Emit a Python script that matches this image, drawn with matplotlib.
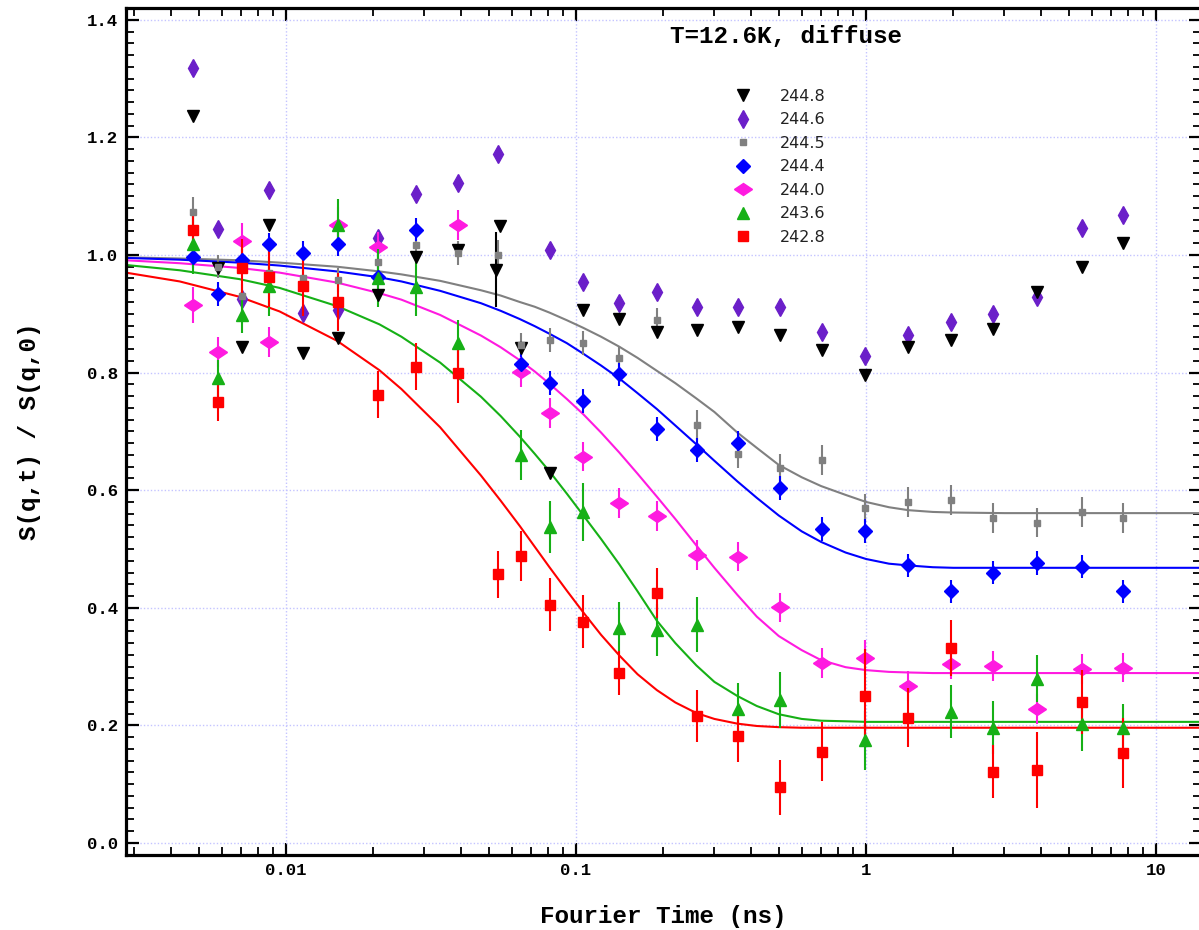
import numpy as np
import matplotlib
matplotlib.use("Agg")
import matplotlib.pyplot as plt
from matplotlib.lines import Line2D
from matplotlib.markers import MarkerStyle
from matplotlib.transforms import Affine2D
from matplotlib.ticker import FixedLocator, FixedFormatter, MultipleLocator, LogLocator, NullFormatter

nan = np.nan

# ---------------- data ----------------
# Fourier times (ns) shared by the data sets
T = [0.00479, 0.00583, 0.00704, 0.00877, 0.0114, 0.0151, 0.0207, 0.0281, 0.0393,
     0.0538, 0.0644, 0.0813, 0.1055, 0.1407, 0.1907, 0.2604, 0.3628, 0.505, 0.705,
     0.988, 1.396, 1.964, 2.741, 3.888, 5.557, 7.69]

# 244.8 (own time list: two points near 0.054 ns)
T_2448 = [0.00479, 0.00583, 0.00704, 0.00877, 0.0114, 0.0151, 0.0207, 0.0281, 0.0393,
          0.0530, 0.0547, 0.0644, 0.0813, 0.1055, 0.1407, 0.1907, 0.2604, 0.3628, 0.505,
          0.705, 0.988, 1.396, 1.964, 2.741, 3.888, 5.557, 7.69]
S_2448 = [1.236, 0.978, 0.844, 1.051, 0.833, 0.859, 0.932, 0.997, 1.008,
          0.975, 1.050, 0.842, 0.629, 0.906, 0.891, 0.869, 0.872, 0.877, 0.864,
          0.838, 0.796, 0.844, 0.855, 0.874, 0.937, 0.980, 1.020]
E_2448 = [0, 0, 0, 0, 0, 0, 0, 0, 0,
          0.064, 0, 0, 0, 0, 0, 0, 0, 0, 0,
          0, 0, 0, 0, 0, 0, 0, 0]

S_2446 = [1.318, 1.044, 0.925, 1.111, 0.901, 0.906, 1.029, 1.103, 1.122, 1.172, nan,
          1.008, 0.954, 0.919, 0.937, 0.912, 0.912, 0.911, 0.869, 0.828, 0.864, 0.886,
          0.900, 0.929, 1.046, 1.068]

S_2445 = [1.073, 0.980, 0.930, 0.969, 0.961, 0.957, 0.988, 1.017, 1.003, 1.000, 0.847,
          0.855, 0.850, 0.825, 0.889, 0.711, 0.662, 0.637, 0.651, 0.569, 0.580, 0.583,
          0.553, 0.545, 0.563, 0.553]
E_2445 = [0.025, 0.02, 0.02, 0.02, 0.02, 0.02, 0.02, 0.02, 0.02, 0.025, 0.02,
          0.02, 0.02, 0.02, 0.02, 0.025, 0.025, 0.025, 0.025, 0.025, 0.025, 0.025,
          0.025, 0.025, 0.025, 0.025]

S_2444 = [0.997, 0.934, 0.991, 1.018, 1.003, 1.018, 0.963, 1.043, nan, nan, 0.815,
          0.782, 0.752, 0.797, 0.704, 0.668, 0.680, 0.604, 0.534, 0.531, 0.472, 0.428,
          0.460, 0.476, 0.470, 0.428]
E_2444 = [0.02] * 26

S_2440 = [0.915, 0.835, 1.024, 0.852, nan, 1.051, 1.014, nan, 1.051, nan, 0.801,
          0.731, 0.657, 0.578, 0.556, 0.490, 0.487, 0.401, 0.306, 0.315, 0.267, 0.304,
          0.301, 0.228, 0.296, 0.298]
E_2440 = [0.03, 0.025, 0.03, 0.025, 0.025, 0.03, 0.025, 0.025, 0.025, 0.025, 0.025,
          0.025, 0.025, 0.025, 0.025, 0.025, 0.025, 0.025, 0.025, 0.03, 0.025, 0.025,
          0.025, 0.025, 0.025, 0.025]

S_2436 = [1.018, 0.791, 0.898, 0.947, nan, 1.051, 0.961, 0.946, 0.850, nan, 0.660,
          0.538, 0.563, 0.366, 0.362, 0.371, 0.228, 0.243, nan, 0.175, nan, 0.223,
          0.196, 0.279, 0.202, 0.196]
E_2436 = [0.05, 0.03, 0.03, 0.05, 0.05, 0.045, 0.05, 0.05, 0.04, 0.04, 0.042,
          0.044, 0.05, 0.044, 0.044, 0.047, 0.044, 0.047, 0.05, 0.05, 0.05, 0.045,
          0.045, 0.04, 0.045, 0.04]

S_2428 = [1.043, 0.750, 0.978, 0.962, 0.947, 0.920, 0.762, 0.810, 0.799, 0.457, 0.488,
          0.405, 0.376, 0.289, 0.425, 0.216, 0.182, 0.095, 0.155, 0.250, 0.213, 0.332,
          0.121, 0.124, 0.240, 0.153]
E_2428 = [0.03, 0.033, 0.05, 0.05, 0.05, 0.05, 0.04, 0.04, 0.05, 0.04, 0.043,
          0.045, 0.045, 0.037, 0.043, 0.045, 0.045, 0.047, 0.05, 0.08, 0.05, 0.048,
          0.045, 0.065, 0.055, 0.06]

# fitted curves, values
FIT_T = [0.0028, 0.0043, 0.0069, 0.0095, 0.015, 0.021, 0.025, 0.034, 0.047, 0.055,
         0.064, 0.072, 0.081, 0.093, 0.106, 0.122, 0.141, 0.163, 0.19, 0.22, 0.26,
         0.30, 0.36, 0.42, 0.5, 0.6, 0.7, 0.85, 1.0, 1.2, 1.4, 1.7, 2.0, 3.0, 14.3]
FIT_2445 = [0.996, 0.994, 0.991, 0.987, 0.980, 0.972, 0.967, 0.956, 0.940, 0.931,
            0.920, 0.912, 0.902, 0.889, 0.876, 0.861, 0.844, 0.825, 0.803, 0.782, 0.756,
            0.733, 0.698, 0.672, 0.643, 0.622, 0.607, 0.592, 0.580, 0.571, 0.566, 0.563,
            0.562, 0.561, 0.561]
FIT_2444 = [0.995, 0.992, 0.987, 0.982, 0.972, 0.962, 0.955, 0.939, 0.918, 0.905,
            0.891, 0.879, 0.866, 0.850, 0.832, 0.812, 0.790, 0.765, 0.738, 0.710, 0.678,
            0.650, 0.615, 0.587, 0.557, 0.530, 0.512, 0.494, 0.483, 0.475, 0.472, 0.469,
            0.468, 0.468, 0.468]
FIT_2440 = [0.991, 0.986, 0.978, 0.970, 0.953, 0.935, 0.924, 0.898, 0.863, 0.843,
            0.821, 0.802, 0.781, 0.755, 0.729, 0.698, 0.664, 0.628, 0.589, 0.551, 0.506,
            0.468, 0.422, 0.385, 0.352, 0.328, 0.311, 0.299, 0.294, 0.291, 0.290, 0.289,
            0.289, 0.289, 0.289]
FIT_2436 = [0.983, 0.974, 0.959, 0.944, 0.913, 0.882, 0.861, 0.817, 0.759, 0.726,
            0.691, 0.662, 0.632, 0.594, 0.557, 0.517, 0.474, 0.428, 0.378, 0.340, 0.302,
            0.274, 0.250, 0.233, 0.219, 0.211, 0.208, 0.207, 0.206, 0.206, 0.206, 0.206,
            0.206, 0.206, 0.206]
FIT_2428 = [0.970, 0.955, 0.929, 0.904, 0.854, 0.804, 0.772, 0.707, 0.625, 0.582,
            0.539, 0.504, 0.469, 0.429, 0.392, 0.354, 0.319, 0.287, 0.260, 0.239, 0.221,
            0.211, 0.203, 0.199, 0.197, 0.196, 0.196, 0.196, 0.196, 0.196, 0.196, 0.196,
            0.196, 0.196, 0.196]

LABELS = ["244.8", "244.6", "244.5", "244.4", "244.0", "243.6", "242.8"]
TITLE = "T=12.6K, diffuse"
X_TICKS = [0.01, 0.1, 1, 10]
X_TICK_LABELS = ["0.01", "0.1", "1", "10"]
Y_TICKS = [0.0, 0.2, 0.4, 0.6, 0.8, 1.0, 1.2, 1.4]
Y_TICK_LABELS = ["0.0", "0.2", "0.4", "0.6", "0.8", "1.0", "1.2", "1.4"]

# ---------------- styles ----------------
C_BLACK = "#000000"
C_PURPLE = "#6b1fc9"
C_GRAY = "#808080"
C_BLUE = "#0000ff"
C_PINK = "#ff1ae0"
C_GREEN = "#16b016"
C_RED = "#ff0000"

hdiamond = MarkerStyle("d", transform=Affine2D().rotate_deg(90))

MONO = "Liberation Mono"

fig = plt.figure(figsize=(11.99, 9.30), dpi=100)
ax = fig.add_axes([126 / 1199, 1 - 855 / 930, (1201 - 126) / 1199, (855 - 8) / 930])

ax.set_xscale("log")
ax.set_xlim(0.002807, 14.29)
ax.set_ylim(-0.0204, 1.420)

# grid
ax.set_axisbelow(True)
ax.grid(True, which="major", color="#c4c4ff", linestyle=(0, (1, 1.5)), linewidth=1.0)

# fitted lines
fit_lw = 1.5
ax.plot(FIT_T, FIT_2445, color=C_GRAY, lw=fit_lw, zorder=2)
ax.plot(FIT_T, FIT_2444, color=C_BLUE, lw=fit_lw, zorder=2)
ax.plot(FIT_T, FIT_2440, color=C_PINK, lw=fit_lw, zorder=2)
ax.plot(FIT_T, FIT_2436, color=C_GREEN, lw=fit_lw, zorder=2)
ax.plot(FIT_T, FIT_2428, color=C_RED, lw=fit_lw, zorder=2)

eb_kw = dict(ls="none", capsize=0, elinewidth=1.5, zorder=3)

ax.errorbar(T_2448, S_2448, yerr=E_2448, fmt="v", color=C_BLACK, ms=8, **eb_kw)
ax.plot(T, S_2446, ls="none", marker="d", color=C_PURPLE, ms=9, zorder=3)
ax.errorbar(T, S_2445, yerr=E_2445, fmt="s", color=C_GRAY, ms=4.8, **eb_kw)
ax.errorbar(T, S_2444, yerr=E_2444, fmt="D", color=C_BLUE, ms=7, **eb_kw)
ax.errorbar(T, S_2440, yerr=E_2440, fmt="none", ecolor=C_PINK, **eb_kw)
ax.plot(T, S_2440, ls="none", marker=hdiamond, color=C_PINK, ms=9.5, zorder=3)
ax.errorbar(T, S_2436, yerr=E_2436, fmt="^", color=C_GREEN, ms=8, **eb_kw)
ax.errorbar(T, S_2428, yerr=E_2428, fmt="s", color=C_RED, ms=7, **eb_kw)

# ticks
ax.xaxis.set_major_locator(FixedLocator(X_TICKS))
ax.xaxis.set_major_formatter(FixedFormatter(X_TICK_LABELS))
ax.xaxis.set_minor_locator(LogLocator(base=10, subs=np.arange(2, 10), numticks=20))
ax.xaxis.set_minor_formatter(NullFormatter())
ax.yaxis.set_major_locator(FixedLocator(Y_TICKS))
ax.yaxis.set_major_formatter(FixedFormatter(Y_TICK_LABELS))
ax.yaxis.set_minor_locator(MultipleLocator(0.02))

ax.tick_params(which="both", direction="in", top=True, right=True, color="black")
ax.tick_params(which="major", length=9, width=1.6, pad=6)
ax.tick_params(which="minor", length=5.5, width=1.3)
for lab in ax.get_xticklabels() + ax.get_yticklabels():
    lab.set_fontfamily(MONO)
    lab.set_fontweight("bold")
    lab.set_fontsize(12.5)

for sp in ax.spines.values():
    sp.set_linewidth(2.3)
    sp.set_color("black")

ax.set_xlabel("Fourier Time (ns)", fontfamily=MONO, fontweight="bold", fontsize=17.5)
ax.set_ylabel("S(q,t) / S(q,0)", fontfamily=MONO, fontweight="bold", fontsize=17.5)
ax.xaxis.set_label_coords(0.5, -0.059)
ax.yaxis.set_label_coords(-0.079, 0.5)

ax.text(0.6144, 0.966, TITLE, transform=ax.transAxes, ha="center", va="center",
        fontfamily=MONO, fontweight="bold", fontsize=17.5)

# legend (markers only)
handles = [
    Line2D([], [], ls="none", marker="v", color=C_BLACK, ms=8),
    Line2D([], [], ls="none", marker="d", color=C_PURPLE, ms=9),
    Line2D([], [], ls="none", marker="s", color=C_GRAY, ms=4.8),
    Line2D([], [], ls="none", marker="D", color=C_BLUE, ms=7),
    Line2D([], [], ls="none", marker=hdiamond, color=C_PINK, ms=9.5),
    Line2D([], [], ls="none", marker="^", color=C_GREEN, ms=8),
    Line2D([], [], ls="none", marker="s", color=C_RED, ms=7),
]
leg = ax.legend(handles, LABELS, loc="upper left",
                bbox_to_anchor=(735.4 / 1199, 1 - 89 / 930), bbox_transform=fig.transFigure,
                frameon=False, borderpad=0, borderaxespad=0, handlelength=1.0,
                handletextpad=1.8, labelspacing=0.53,
                prop={"family": "DejaVu Sans", "size": 11.5})
for t in leg.get_texts():
    t.set_color("#222222")

fig.savefig("out.png", dpi=100)
